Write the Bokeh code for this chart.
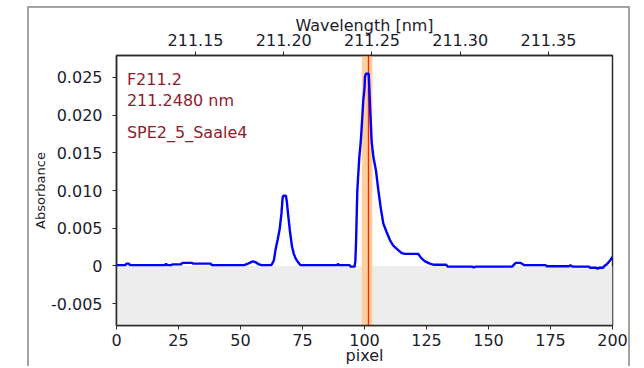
from bokeh.plotting import figure
from bokeh.models import (Range1d, LinearAxis, FixedTicker, NumeralTickFormatter,
                          BoxAnnotation, Span, Label)
from bokeh.embed import file_html
from bokeh.resources import INLINE

# ---- data ----
pixel = [0, 3.5, 4, 5, 5.5, 19.5, 20, 20.5, 22, 22.5,
         26, 26.5, 30.5, 31, 38, 38.5, 51.5, 53, 55, 56,
         57.5, 58.5, 62.3, 62.8, 63.5, 64.1, 65, 65.8, 66.5, 67.0,
         67.3, 68.3, 68.7, 69.2, 69.9, 70.8, 71.5, 72.2, 73, 74.2,
         89, 89.3, 89.7, 94, 94.5, 96, 96.3, 96.6, 97.1, 97.9,
         98.5, 99.0, 99.5, 100.0, 100.2, 100.6, 101.7, 102.2, 102.6, 102.9,
         103.6, 104.6, 105.6, 106.5, 107.6, 108.9, 110.3, 111.6, 113.6, 115,
         116.3, 121.6, 123, 124.4, 126.4, 128, 133, 133.5, 143.5, 144,
         145, 159.5, 161, 163, 164.5, 173, 173.5, 182.5, 183, 184,
         190.5, 191, 193.5, 194, 194.5, 196.2, 196.7, 197.6, 198.5, 199.3,
         200]
absorbance = [0.0001, 0.0001, 0.0003, 0.0003, 0.0001, 0.0001, 0.0003, 0.0001, 0.0001, 0.0002,
              0.0002, 0.0004, 0.0004, 0.0003, 0.0003, 0.0001, 0.0001, 0.0003, 0.0006, 0.0005,
              0.0002, 0.0001, 0.0001, 0.0003, 0.0008, 0.0021, 0.0035, 0.0049, 0.0069, 0.0091,
              0.0093, 0.0093, 0.0085, 0.0068, 0.0047, 0.0025, 0.0016, 0.0010, 0.0006, 0.0001,
              0.0001, 0.0003, 0.0001, 0.0001, -0.0001, -0.0001, 0.0006, 0.0032, 0.0100, 0.0144,
              0.0165, 0.0191, 0.0219, 0.0235, 0.0251, 0.0255, 0.0255, 0.0215, 0.0185, 0.0164,
              0.0144, 0.0127, 0.0100, 0.0078, 0.0056, 0.0045, 0.0034, 0.0027, 0.0021, 0.0017,
              0.0016, 0.0016, 0.0010, 0.0006, 0.0003, 0.00015, 0.00015, -0.0001, -0.0001, -0.0002,
              -0.0001, -0.0001, 0.0004, 0.0004, 0.0001, 0.0001, -0.00005, -0.00005, 0.0001, -0.0001,
              -0.0001, -0.00025, -0.00025, -0.0004, -0.00025, -0.00025, 0.0, 0.0002, 0.0005, 0.00085,
              0.0012]
assert len(pixel) == len(absorbance)

x_ticks = [0, 25, 50, 75, 100, 125, 150, 175, 200]
y_ticks = [-0.005, 0, 0.005, 0.010, 0.015, 0.020, 0.025]
wl_ticks = [211.15, 211.20, 211.25, 211.30, 211.35]
x_limits = [0, 200]
y_limits = [-0.0079, 0.0279]
wl_limits = [211.1052, 211.3863]
marker_wavelength = 211.2480
band_pixels = [98.9, 103.2]
info_texts = ["F211.2", "211.2480 nm", "SPE2_5_Saale4"]

FONT = "DejaVu Sans"
TXT = "#1c1c2c"

p = figure(width=603, height=360, output_backend="svg", toolbar_location=None,
           x_range=Range1d(*x_limits), y_range=Range1d(*y_limits),
           min_border_left=87, min_border_right=20, min_border_top=47, min_border_bottom=43,
           x_axis_label="pixel", y_axis_label="Absorbance")
p.margin = (6, 0, 0, 27)
p.styles = {"border-top": "2px solid #a3a3a3", "border-left": "2px solid #a3a3a3",
            "border-right": "2px solid #a3a3a3"}
p.background_fill_color = "white"
p.border_fill_color = "white"
p.outline_line_color = "#2b2b2b"
p.outline_line_width = 1.5
p.grid.visible = False

bottom_axis = p.below[0]
left_axis = p.left[0]

p.extra_x_ranges = {"wl": Range1d(*wl_limits)}
top_axis = LinearAxis(x_range_name="wl", axis_label="Wavelength [nm]",
                      ticker=FixedTicker(ticks=wl_ticks),
                      formatter=NumeralTickFormatter(format="0.00"))
p.add_layout(top_axis, "above")

bottom_axis.ticker = FixedTicker(ticks=x_ticks)
left_axis.ticker = FixedTicker(ticks=y_ticks)
left_axis.formatter = NumeralTickFormatter(format="0.000")
left_axis.major_label_overrides = {0: "0"}

for ax in [bottom_axis, left_axis, top_axis]:
    ax.axis_line_color = "#2b2b2b"
    ax.axis_line_width = 1.5
    ax.major_tick_line_color = "#2b2b2b"
    ax.major_tick_out = 4
    ax.major_tick_in = 0
    ax.minor_tick_out = 0
    ax.minor_tick_in = 0
    ax.major_label_text_font = FONT
    ax.major_label_text_font_size = "16px"
    ax.major_label_text_color = TXT
    ax.axis_label_text_font = FONT
    ax.axis_label_text_font_size = "16px"
    ax.axis_label_text_font_style = "normal"
    ax.axis_label_text_color = TXT

bottom_axis.major_label_standoff = 4
bottom_axis.axis_label_standoff = -3
top_axis.major_label_standoff = 6
top_axis.axis_label_standoff = -4
left_axis.major_label_standoff = 10
left_axis.axis_label_standoff = 0
left_axis.axis_label_text_font_size = "13px"

# background regions / markers
p.add_layout(BoxAnnotation(top=0, fill_color="#ededed", fill_alpha=1.0,
                           line_color=None, level="underlay"))
p.add_layout(BoxAnnotation(left=band_pixels[0], right=band_pixels[1],
                           fill_color="#ffcf9f", fill_alpha=1.0,
                           line_color=None, level="underlay"))
marker_pixel = (marker_wavelength - wl_limits[0]) / (wl_limits[1] - wl_limits[0]) * (x_limits[1] - x_limits[0])
p.add_layout(Span(location=marker_pixel, dimension="height", line_color="#ff2200",
                  line_width=1.3, level="underlay"))

p.line(pixel, absorbance, line_color="#0000ff", line_width=2.4)

text_y = [0.02468, 0.02193, 0.01773]
for t, yv in zip(info_texts, text_y):
    p.add_layout(Label(x=4.2, y=yv, text=t, text_color="#8e1b2e", text_font=FONT,
                       text_font_size="16px", text_baseline="alphabetic"))

open("out.html", "w").write(file_html(p, INLINE))
